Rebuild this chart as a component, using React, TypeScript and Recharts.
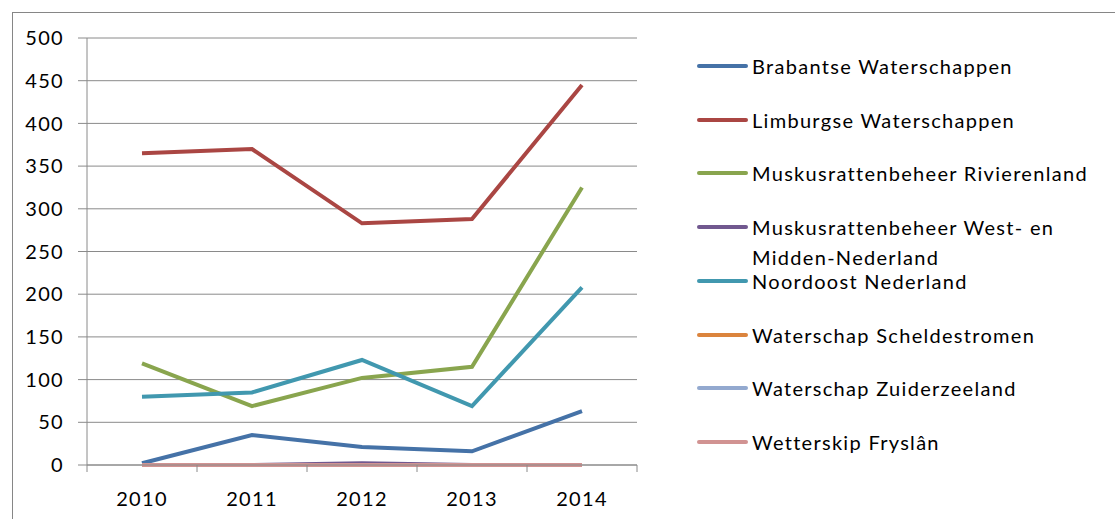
import { LineChart, Line, XAxis, YAxis, CartesianGrid } from "recharts";

const years = ["2010", "2011", "2012", "2013", "2014"];

const brabantse = [2, 35, 21, 16, 63];
const limburgse = [365, 370, 283, 288, 445];
const rivierenland = [119, 69, 102, 115, 325];
const westMidden = [0, 0, 2, 0, 0];
const noordoost = [80, 85, 123, 69, 208];
const scheldestromen = [0, 0, 0, 0, 0];
const zuiderzeeland = [0, 0, 0, 0, 0];
const fryslan = [0, 0, 0, 0, 0];

const yTicks = [0, 50, 100, 150, 200, 250, 300, 350, 400, 450, 500];

const series = [
  { key: "b", name: "Brabantse Waterschappen", values: brabantse, color: "#4572A7" },
  { key: "l", name: "Limburgse Waterschappen", values: limburgse, color: "#AA4643" },
  { key: "r", name: "Muskusrattenbeheer Rivierenland", values: rivierenland, color: "#89A54E" },
  { key: "w", name: "Muskusrattenbeheer West- en Midden-Nederland", values: westMidden, color: "#71588F" },
  { key: "n", name: "Noordoost Nederland", values: noordoost, color: "#4198AF" },
  { key: "s", name: "Waterschap Scheldestromen", values: scheldestromen, color: "#DB843D" },
  { key: "z", name: "Waterschap Zuiderzeeland", values: zuiderzeeland, color: "#93A9CF" },
  { key: "f", name: "Wetterskip Fryslân", values: fryslan, color: "#D19392" },
];

const data = years.map((year, i) => {
  const row: Record<string, string | number> = { year };
  series.forEach((s) => {
    row[s.key] = s.values[i];
  });
  return row;
});

const FONT = "Lato, 'Open Sans', sans-serif";
const FONT_SIZE = 20;
const SPACING = 1.3;
const GRID = "#8a8a8a";
const HALF_BAND = 55;

function XTick(props: any) {
  const { x, y, payload, index, visibleTicksCount } = props;
  const last = index === visibleTicksCount - 1;
  return (
    <g>
      <line x1={x - HALF_BAND} y1={y} x2={x - HALF_BAND} y2={y + 7} stroke={GRID} />
      {last && <line x1={x + HALF_BAND} y1={y} x2={x + HALF_BAND} y2={y + 7} stroke={GRID} />}
      <text
        x={x}
        y={y + 33}
        textAnchor="middle"
        dominantBaseline="central"
        fontFamily={FONT}
        fontSize={FONT_SIZE}
        letterSpacing={SPACING}
        fill="#000"
      >
        {payload.value}
      </text>
    </g>
  );
}

export default function App() {
  return (
    <div
      style={{
        position: "fixed",
        top: 0,
        left: 0,
        width: 1115,
        height: 519,
        overflow: "hidden",
        background: "#fff",
      }}
    >
      <div
        style={{
          position: "absolute",
          left: 12,
          top: 12,
          width: 1200,
          height: 600,
          border: "1px solid #868686",
        }}
      />
      <div style={{ position: "absolute", left: 0, top: 0 }}>
        <LineChart
          width={1115}
          height={519}
          data={data}
          margin={{ top: 38, left: 27, right: 478, bottom: 14 }}
        >
          <CartesianGrid vertical={false} stroke={GRID} strokeWidth={1} />
          <XAxis
            dataKey="year"
            height={40}
            padding={{ left: HALF_BAND, right: HALF_BAND }}
            axisLine={{ stroke: GRID }}
            tickLine={false}
            tickSize={0}
            tickMargin={0}
            tick={<XTick />}
            interval={0}
          />
          <YAxis
            width={60}
            domain={[0, 500]}
            ticks={yTicks}
            interval={0}
            axisLine={{ stroke: GRID }}
            tickLine={{ stroke: GRID }}
            tickSize={9}
            tickMargin={14}
            tick={{ fill: "#000", fontSize: FONT_SIZE, fontFamily: FONT, letterSpacing: SPACING }}
          />
          {series.map((s) => (
            <Line
              key={s.key}
              type="linear"
              dataKey={s.key}
              name={s.name}
              stroke={s.color}
              strokeWidth={4}
              dot={false}
              activeDot={false}
              isAnimationActive={false}
            />
          ))}
        </LineChart>
      </div>
      {series.map((s, i) => (
        <div
          key={s.key}
          style={{
            position: "absolute",
            left: 697,
            top: 66 + i * 53.7 - 15,
            display: "flex",
            alignItems: "flex-start",
            fontFamily: FONT,
            fontSize: FONT_SIZE,
            letterSpacing: SPACING,
            lineHeight: "30px",
            color: "#000",
          }}
        >
          <div
            style={{
              width: 51,
              height: 4,
              marginTop: 13,
              background: s.color,
              borderRadius: 2,
              flexShrink: 0,
            }}
          />
          <div style={{ marginLeft: 4, width: 350 }}>{s.name}</div>
        </div>
      ))}
    </div>
  );
}
